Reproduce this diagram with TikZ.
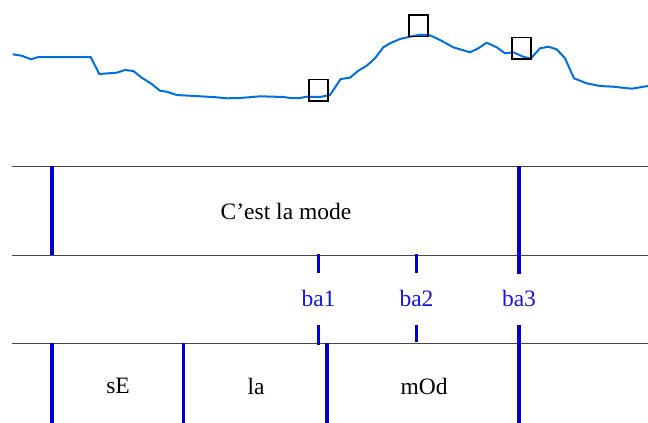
\documentclass[tikz,border=0pt]{standalone}
\usepackage{fontspec}
\setmainfont{Liberation Serif}
\definecolor{curveblue}{RGB}{0,112,224}
\definecolor{barblue}{RGB}{0,0,210}
\definecolor{lblblue}{RGB}{20,20,225}
\definecolor{tiergray}{RGB}{70,70,70}
\begin{document}
\begin{tikzpicture}[x=1pt,y=-1pt,
  bar/.style={barblue,line width=3.6pt},
  tier/.style={tiergray,line width=0.9pt},
  curve/.style={curveblue,line width=2pt,line join=round},
  mark box/.style={draw=black,line width=1.5pt,minimum width=19pt,minimum height=21.5pt,inner sep=0pt},
  txt/.style={font=\fontsize{23.5}{28}\selectfont,inner sep=0pt},
  lbl/.style={txt,text=lblblue}]
\useasboundingbox (0,0) rectangle (648,423);
% pitch curve
\draw[curve] (12.7,54.3) -- (21.7,55.7) -- (31,59.3) -- (38.3,57) -- (90.7,57) -- (99.3,74)
 -- (116.7,72.7) -- (125,70) -- (133.3,71) -- (141.7,77.7) -- (151.7,84) -- (160,90.7)
 -- (166.7,91.7) -- (176.7,95) -- (200,96.3) -- (216.7,97.3) -- (226.7,98.3) -- (240,98)
 -- (260,96.3) -- (283.3,97) -- (290,98) -- (300,98) -- (306.7,96.7) -- (320,97)
 -- (330,95) -- (340.7,79) -- (350,77.7) -- (358.3,70.7) -- (366.7,65.7) -- (375,58.3)
 -- (383.3,47.3) -- (390,43.3) -- (400,39) -- (410,36.7) -- (420,34.7) -- (430,35.3)
 -- (440,40) -- (453.3,47.3) -- (470,52.3) -- (478.3,48.3) -- (486.7,42.7) -- (496.7,47.3)
 -- (505,53.3) -- (513.3,52.3) -- (523.3,56.7) -- (530.7,58.7) -- (540,48.3) -- (548.3,46.7)
 -- (556.7,49.3) -- (565,58.3) -- (574,78.3) -- (586.7,83.3) -- (600,86) -- (613.3,86.7)
 -- (631.7,88.7) -- (648,86);
\node[mark box] (b1) at (318.5,90) {};
\node[mark box] (b2) at (418.7,25.8) {};
\node[mark box] (b3) at (521.5,48) {};
% tier lines
\coordinate (t1l) at (12,166); \coordinate (t1r) at (648,166);
\coordinate (t2l) at (12,255); \coordinate (t2r) at (648,255);
\coordinate (t3l) at (12,343); \coordinate (t3r) at (648,343);
\draw[tier] (t1l) -- (t1r);
\draw[tier] (t2l) -- (t2r);
\draw[tier] (t3l) -- (t3r);
% top tier boundaries
\draw[bar] (52,166) -- (52,255);
\draw[bar] (519,166) -- (519,274);
% ba ticks
\draw[bar] (318.5,254) -- (318.5,273);
\draw[bar] (416.5,254) -- (416.5,273);
\draw[bar] (318.5,325) -- (318.5,345);
\draw[bar] (416.5,325) -- (416.5,342);
\draw[bar] (519,325) -- (519,423);
% bottom tier boundaries
\draw[bar] (52,343) -- (52,423);
\draw[bar] (183.5,343) -- (183.5,423);
\draw[bar] (327,343) -- (327,423);
% texts
\node[txt] (title) at (286,211) {C’est la mode};
\node[lbl] (ba1) at (318.5,298) {ba1};
\node[lbl] (ba2) at (416.5,298) {ba2};
\node[lbl] (ba3) at (519,298) {ba3};
\node[txt] (sE) at (118,386) {sE};
\node[txt] (la) at (256,386) {la};
\node[txt] (mOd) at (424,386) {mOd};
\end{tikzpicture}
\end{document}
